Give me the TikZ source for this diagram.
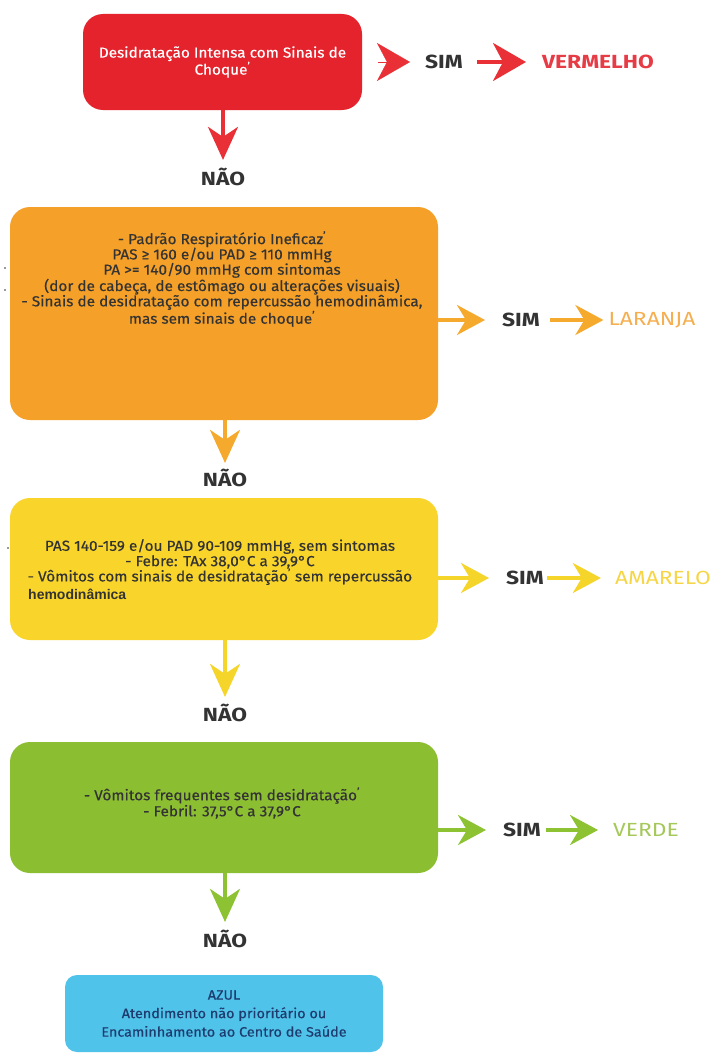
\documentclass[tikz,border=0pt]{standalone}
\usepackage{fontspec}
\setmainfont{Fira Sans}[FakeStretch=1.2]
\newfontfamily\boxfont{Fira Sans}[FakeStretch=1.06,FakeBold=0.4]
\newfontfamily\hemofont{Liberation Sans}
\usetikzlibrary{arrows.meta,calc}
\definecolor{boxred}{HTML}{E4232D}
\definecolor{boxorange}{HTML}{F5A028}
\definecolor{boxyellow}{HTML}{F9D52C}
\definecolor{boxgreen}{HTML}{8CBE32}
\definecolor{boxblue}{HTML}{50C3EB}
\definecolor{arrred}{HTML}{EA3037}
\definecolor{arrorange}{HTML}{F5AA2D}
\definecolor{arryellow}{HTML}{F6D52A}
\definecolor{arrgreen}{HTML}{8DC332}
\definecolor{lblred}{HTML}{E63C46}
\definecolor{lblorange}{HTML}{F5AF50}
\definecolor{lblyellow}{HTML}{F6D646}
\definecolor{lblgreen}{HTML}{A5C85A}
\definecolor{darktext}{HTML}{333333}
\definecolor{navytext}{HTML}{1E3C6E}
\tikzset{
  box/.style={rounded corners=20pt, inner sep=0pt, align=center},
  boxtext/.style={inner sep=0pt, align=center, text=darktext, font=\boxfont\fontsize{14.5}{15.3}\selectfont},
  sim/.style={inner sep=0pt, text=darktext, font=\fontsize{19}{19}\selectfont\bfseries},
  nao/.style={inner sep=0pt, text=darktext, font=\fontsize{19}{19}\selectfont\bfseries},
  res/.style={inner sep=0pt, font=\fontsize{19}{19}\selectfont},
  harr/.style={line width=3.2pt, -{Stealth[length=28pt,width=30pt,inset=9pt]}},
  bigharr/.style={line width=3.5pt, -{Stealth[length=33pt,width=38pt,inset=10pt]}},
  varr/.style={line width=3.5pt, -{Stealth[length=33pt,width=30pt,inset=10pt]}},
}
\begin{document}
\begin{tikzpicture}[x=1pt,y=-1pt]
\useasboundingbox (0,0) rectangle (718,1057);
\fill[white] (0,0) rectangle (718,1057);

% ---------- RED ----------
\node[box, fill=boxred, minimum width=279pt, minimum height=96pt, text=white,
      font=\boxfont\fontsize{14.5}{17}\selectfont] (red) at (222.5,62)
  {Desidratação Intensa com Sinais de\\Choque\textsuperscript{’}};
\coordinate (c1) at (378,62);
\node[sim] (sim1) at (444,62) {SIM};
\node[res, text=lblred, font=\fontsize{19}{19}\selectfont\bfseries] (res1) at (598,62) {VERMELHO};
\draw[bigharr, arrred, line width=0.3pt, shorten >=15pt] (c1) -- (sim1.west);
\draw[bigharr, arrred, shorten <=14pt, shorten >=16pt] (sim1.east) -- (res1.west);
\node[nao] (nao1) at (223,177) {NÃO};
\draw[varr, arrred, shorten >=8pt] (red.south -| nao1.north) -- (nao1.north);

% ---------- ORANGE ----------
\node[box, fill=boxorange, minimum width=428pt, minimum height=213pt] (orange) at (224,313.5) {};
\node[boxtext] (otext) at (222,279)
  {- Padrão Respiratório Ineficaz\textsuperscript{’}\\
   PAS ≥ 160 e/ou PAD ≥ 110 mmHg\\
   PA >= 140/90 mmHg com sintomas\\
   (dor de cabeça, de estômago ou alterações visuais)\\
   - Sinais de desidratação com repercussão hemodinâmica,\\
   mas sem sinais de choque\textsuperscript{’}};
\node[sim] (sim2) at (521,320) {SIM};
\node[res, text=lblorange] (res2) at (652,320) {LARANJA};
\draw[harr, arrorange, shorten >=17pt] (orange.east |- sim2.west) -- (sim2.west);
\draw[harr, arrorange, shorten <=10pt, shorten >=5pt] (sim2.east) -- (res2.west);
\node[nao] (nao2) at (225,478) {NÃO};
\draw[varr, arrorange, shorten >=6pt] (orange.south -| nao2.north) -- (nao2.north);
\fill[darktext] (5,268) circle (0.8pt);
\fill[darktext] (5,290) circle (0.8pt);

% ---------- YELLOW ----------
\node[box, fill=boxyellow, minimum width=428pt, minimum height=142pt] (yellow) at (224,569) {};
\node[boxtext] (ytext) at (220,562)
  {PAS 140-159 e/ou PAD 90-109 mmHg, sem sintomas\\
   - Febre: TAx 38,0°C a 39,9°C\\
   - Vômitos com sinais de desidratação\textsuperscript{’} sem repercussão};
\node[inner sep=0pt, anchor=west, text=darktext, font=\hemofont\fontsize{14}{15}\selectfont\bfseries] (yhemo) at (28,594) {hemodinâmica};
\node[sim] (sim3) at (525,578) {SIM};
\node[res, text=lblyellow] (res3) at (663,578) {AMARELO};
\draw[harr, arryellow, shorten >=17pt] (yellow.east |- sim3.west) -- (sim3.west);
\draw[harr, arryellow, shorten <=3pt, shorten >=14pt] (sim3.east) -- (res3.west);
\node[nao] (nao3) at (225,713) {NÃO};
\draw[varr, arryellow, shorten >=7pt] (yellow.south -| nao3.north) -- (nao3.north);
\fill[darktext] (8,548) circle (0.8pt);

% ---------- GREEN ----------
\node[box, fill=boxgreen, minimum width=428pt, minimum height=131pt] (green) at (224,807.5) {};
\node[boxtext, font=\boxfont\fontsize{14.5}{16}\selectfont] (gtext) at (222,803)
  {- Vômitos frequentes sem desidratação\textsuperscript{’}\\
   - Febril: 37,5°C a 37,9°C};
\node[sim] (sim4) at (522,830) {SIM};
\node[res, text=lblgreen] (res4) at (646,830) {VERDE};
\draw[harr, arrgreen, shorten >=17pt] (green.east |- sim4.west) -- (sim4.west);
\draw[harr, arrgreen, shorten <=5pt, shorten >=15pt] (sim4.east) -- (res4.west);
\node[nao] (nao4) at (225,939) {NÃO};
\draw[varr, arrgreen, shorten >=8pt] (green.south -| nao4.north) -- (nao4.north);

% ---------- BLUE ----------
\node[box, rounded corners=12pt, fill=boxblue, minimum width=318pt, minimum height=77pt,
      text=navytext, font=\boxfont\fontsize{13.6}{18.5}\selectfont] (blue) at (224,1013.5)
  {AZUL\\Atendimento não prioritário ou\\Encaminhamento ao Centro de Saúde};
\end{tikzpicture}
\end{document}
